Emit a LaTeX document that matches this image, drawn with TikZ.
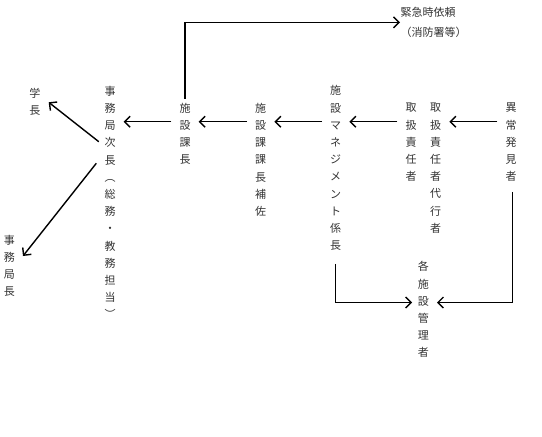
\documentclass[tikz,border=0pt]{standalone}
\usepackage{fontspec}
\newfontfamily\cjk{Noto Sans CJK JP}
\usetikzlibrary{arrows.meta,calc}
\definecolor{txt}{HTML}{333333}
\tikzset{
  vcol/.style={align=center, text=txt, minimum width=27pt, inner xsep=0pt, inner ysep=4pt,
    font=\cjk\fontsize{11}{17.2}\selectfont},
  hlab/.style={align=left, text=txt, inner xsep=0.5pt, inner ysep=0pt,
    font=\cjk\fontsize{11}{19.7}\selectfont},
  arr/.style={draw=black, line width=1.4pt, -{Straight Barb[length=5.5pt,width=11pt]}},
}
\begin{document}
\begin{tikzpicture}[x=1pt,y=-1pt]
\useasboundingbox (0,0) rectangle (542,437);
% vertical text columns
\node[vcol] (gaku) at (35,101.5) {学\\長};
\node[vcol] (jimu) at (110,202.5) {事\\務\\局\\次\\長\\︵\\総\\務\\・\\教\\務\\担\\当\\︶};
\node[vcol] (kacho) at (185,133.8) {施\\設\\課\\長};
\node[vcol] (hosa) at (260.7,159.6) {施\\設\\課\\課\\長\\補\\佐};
\node[vcol] (mane) at (335.7,168.1) {施\\設\\マ\\ネ\\ジ\\メ\\ン\\ト\\係\\長};
\node[vcol] (tori) at (411,142.4) {取\\扱\\責\\任\\者};
\node[vcol] (dairi) at (435.7,168.2) {取\\扱\\責\\任\\者\\代\\行\\者};
\node[vcol] (ijou) at (511,142.4) {異\\常\\発\\見\\者};
\node[vcol] (kanri) at (423.3,309.7) {各\\施\\設\\管\\理\\者};
\node[vcol] (kyoku) at (9.3,265.8) {事\\務\\局\\長};
\node[hlab, anchor=west] (kinkyu) at (400,22.4) {緊急時依頼\\（消防署等）};
% level coordinates
\coordinate (row) at (0,121.7);
\coordinate (row2) at (0,302.5);
\coordinate (d1) at (0,141.7);
\coordinate (d2) at (0,163.3);
% horizontal chain
\draw[arr] (ijou.west |- row) -- (dairi.east |- row);
\draw[arr] (tori.west |- row) -- (mane.east |- row);
\draw[arr] (mane.west |- row) -- (hosa.east |- row);
\draw[arr] (hosa.west |- row) -- (kacho.east |- row);
\draw[arr] (kacho.west |- row) -- (jimu.east |- row);
% diagonals
\draw[arr] ([xshift=2.5pt]jimu.west |- d1) -- ([yshift=-0.8pt]gaku.east);
\draw[arr] (jimu.west |- d2) -- ([yshift=9.8pt]kyoku.east);
% emergency request
\draw[arr] (kacho.north) |- (kinkyu.west);
% to facility managers
\draw[arr] ([yshift=-9pt]mane.south) |- ([xshift=2.5pt]kanri.west |- row2);
\draw[arr] ([xshift=1.7pt,yshift=-6pt]ijou.south) |- (kanri.east |- row2);
\end{tikzpicture}
\end{document}
